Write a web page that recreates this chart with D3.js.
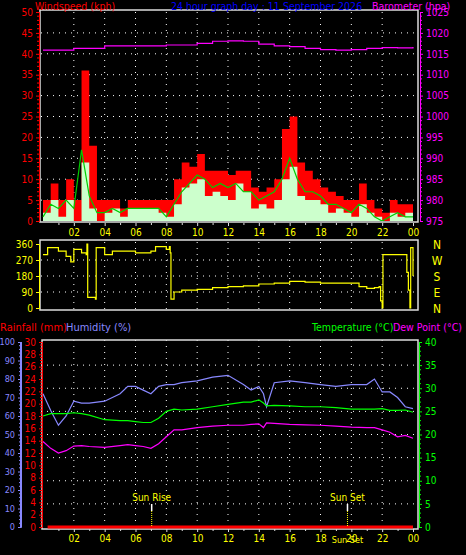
<!DOCTYPE html>
<html><head><meta charset="utf-8">
<script src="https://cdn.jsdelivr.net/npm/d3@7"></script>
<style>body{margin:0;background:#000}svg{display:block}text{font-family:"DejaVu Sans Condensed","DejaVu Sans",sans-serif}</style>
</head><body><div id="chart"></div>
<script>
const hourTicks = ["02","04","06","08","10","12","14","16","18","20","22","00"];
// half-hour samples 0..24
const gust = [5,9,5,10,5,36,18,5,5,5,3,5,5,5,5,5,5,10,14,13,16,12,12,12,11,12,12,8,7,8,10,22,25,14,12,10,8,7,6,5,5,9,5,3,2,5,4,4,5];
const speed = [2,5,1,5,0,14,3,0,2,3,1,3,3,3,3,2,1,4,8,9,10,6,7,6,5,9,7,3,4,3,5,10,13,6,5,5,4,2,3,2,1,4,2,1,0,2,1,2,2];
const avgWind = [1,4,3,5,3,17,6,2,2,3,2,3,3,3,3,3,1,4,7,9,11,10,8,9,8,9,7,7,5,6,7,10,15,10,7,7,6,4,4,3,2,4,3,1,0,1,2,1,1];
const baroHours = [0,2,4,6,8,10,11,12,13,14,15,16,17,18,19,20,21,22,23,24];
const baro = [1015.9,1016.3,1016.9,1016.9,1017.1,1017.5,1018.0,1018.1,1018.0,1017.3,1016.9,1016.7,1016.3,1016.0,1015.9,1016.0,1016.3,1016.5,1016.4,1016.6];
const dirHours = [0,0.3,1,1.5,1.8,2.0,2.5,2.8,2.85,2.9,3.4,3.45,4,4.5,5,6,7,7.3,8,8.2,8.25,8.3,8.5,9,10,11,12,13,14,15,16,17,18,19,20,20.5,21,21.5,21.8,21.9,22.0,22.05,23.5,23.6,23.7,23.8,23.85,24];
const dirs = [300,340,320,290,260,330,310,300,360,60,50,340,300,320,320,310,320,345,330,345,310,50,90,100,105,115,120,125,135,140,150,145,140,140,140,120,110,115,120,40,0,300,300,200,100,0,340,180];
const thHours = [0,0.5,1,1.5,2,2.5,3,4,5,5.5,6,6.5,7,7.5,8,8.5,9,10,11,12,13,13.5,14,14.3,14.5,15,16,17,18,19,20,21,21.5,22,22.5,23,23.5,24];
const humidity = [72,63,55,60,68,67,67,68,72,76,76,74,72,76,77,77,78,79,81,82,77,74,76,72,65,78,79,78,77,76,77,77,80,73,73,70,65,64];
const temperature = [24,24.5,24.5,24.5,24.7,24.5,24.2,23.2,23,23,22.8,22.6,22.6,23.5,25,25.5,25.3,25.5,26,26.5,27,27,27.5,26.8,26.2,26.3,26.2,26,26,25.8,25.5,25.5,25.5,25.6,25.2,25.2,25.3,24.8];
const dewpoint = [18.5,17,16,16.5,17.5,17.6,17.4,17.2,17.6,17.8,17.6,17.4,17,18,19.5,21,21,21.5,21.8,22,22,22.2,22.3,21.5,22.5,22.4,22.2,22.1,22,21.8,21.6,21.5,21.5,21,20.5,19.5,19.8,19.2];
const rainHours = [0.3,24];
const rain = [0,0];
const sunRise = 7.05, sunSet = 19.75;

const svg = d3.select("#chart").append("svg").attr("width",466).attr("height",555).style("background","#000");
const x = d3.scaleLinear().domain([0,24]).range([43,413]);
const half = d3.range(49).map(i => i/2);
const dotted = "1,5";

function grid(y, vals, y0, y1) {
  vals.forEach(v => svg.append("line").attr("x1",41).attr("x2",416).attr("y1",y(v)).attr("y2",y(v))
    .attr("stroke","#fff").attr("stroke-dasharray",dotted));
  d3.range(2,24,2).forEach(h => svg.append("line").attr("x1",x(h)).attr("x2",x(h)).attr("y1",y0).attr("y2",y1)
    .attr("stroke","#fff").attr("stroke-dasharray",dotted));
}
function frame(y0, y1, xl, xr) {
  svg.append("rect").attr("x",xl||40).attr("y",y0).attr("width",(xr||418)-(xl||40)).attr("height",y1-y0)
    .attr("fill","none").attr("stroke","#ddd").attr("stroke-width",1.5);
}
function axisTicks(g, col, fs) {
  g.selectAll("text").attr("fill",col).style("font-size",fs||"10px");
  g.selectAll("line").attr("stroke",col); g.select(".domain").attr("stroke",col);
}
function minor(ys, vals, xPos, col, dir) {
  vals.forEach(v => svg.append("line").attr("x1",xPos).attr("x2",xPos+dir*2).attr("y1",ys(v)).attr("y2",ys(v)).attr("stroke",col));
}
function hourAxis(yPos) {
  const g = svg.append("g").attr("transform",`translate(0,${yPos})`)
    .call(d3.axisBottom(x).tickValues(d3.range(2,25,2)).tickFormat((d,i)=>hourTicks[i]).tickSize(3));
  axisTicks(g,"#ff0"); g.select(".domain").remove(); g.selectAll("line").attr("stroke","#ddd");
  const m = svg.append("g").attr("transform",`translate(0,${yPos})`)
    .call(d3.axisBottom(x).tickValues(d3.range(1,24,2)).tickFormat("").tickSize(2));
  m.select(".domain").remove(); m.selectAll("line").attr("stroke","#ddd");
}

// ---- wind panel
const yW = d3.scaleLinear().domain([0,50]).range([221,12]);
const yB = d3.scaleLinear().domain([975,1025]).range([221,12]);
grid(yW, d3.range(5,50,5), 12, 221);
svg.append("path").datum(gust).attr("fill","#f00")
  .attr("d", d3.area().x((d,i)=>x(half[i])).y0(yW(0)).y1(d=>yW(d)).curve(d3.curveStepAfter));
svg.append("path").datum(speed).attr("fill","#cfc")
  .attr("d", d3.area().x((d,i)=>x(half[i])).y0(yW(0)).y1(d=>yW(d)).curve(d3.curveStepAfter));
svg.append("path").datum(avgWind).attr("fill","none").attr("stroke","#0c0").attr("stroke-width",1.2)
  .attr("d", d3.line().x((d,i)=>x(half[i])).y(d=>yW(d)));
svg.append("path").datum(baro).attr("fill","none").attr("stroke","#f0f").attr("stroke-width",1.2)
  .attr("d", d3.line().x((d,i)=>x(baroHours[i])).y(d=>yB(d)).curve(d3.curveStepAfter));
frame(10, 222);
axisTicks(svg.append("g").attr("transform","translate(39,0)").call(d3.axisLeft(yW).tickValues(d3.range(0,51,5)).tickSize(3)),"#f00");
minor(yW, d3.range(1,50).filter(v=>v%5), 39, "#f00", -1);
axisTicks(svg.append("g").attr("transform","translate(420,0)").call(d3.axisRight(yB).tickValues(d3.range(975,1026,5)).tickFormat(d3.format("d")).tickSize(3)),"#f0f");
minor(yB, d3.range(976,1025).filter(v=>v%5), 420, "#f0f", 1);
svg.append("text").attr("x",35).attr("y",9.5).attr("fill","#f00").style("font-size","10.5px").text("Windspeed (kph)");
svg.append("text").attr("x",171).attr("y",9.5).attr("fill","#00f").style("font-size","10.5px").text("24 hour graph day : 11 September 2026");
svg.append("text").attr("x",372).attr("y",9.5).attr("fill","#f0f").style("font-size","10.5px").text("Barometer (hpa)");
hourAxis(223);

// ---- direction panel
const yD = d3.scaleLinear().domain([0,360]).range([308,244]);
grid(yD, [90,180,270], 242, 310);
frame(240, 310);
svg.append("path").datum(dirs).attr("fill","none").attr("stroke","#ff0").attr("stroke-width",1.2)
  .attr("d", d3.line().x((d,i)=>x(dirHours[i])).y(d=>yD(d)).curve(d3.curveStepAfter));
axisTicks(svg.append("g").attr("transform","translate(39,0)").call(d3.axisLeft(yD).tickValues([0,90,180,270,360]).tickSize(3)),"#ff0");
["N","W","S","E","N"].forEach((c,i)=>svg.append("text").attr("x",437).attr("y",yD(360-i*90)+5).attr("text-anchor","middle")
  .attr("fill","#ff0").style("font-size","12px").text(c));

// ---- temp / humidity panel
const yH = d3.scaleLinear().domain([0,100]).range([527,342]);
const yR = d3.scaleLinear().domain([0,30]).range([527,342]);
const yT = d3.scaleLinear().domain([0,40]).range([527,342]);
grid(yT, d3.range(5,40,5), 340, 528);
frame(340, 529, 42, 418);
axisTicks(svg.append("g").attr("transform","translate(21,0)").call(d3.axisLeft(yH).tickValues(d3.range(0,101,10)).tickSize(3)),"#88f","9px");
minor(yH, d3.range(2,100,2).filter(v=>v%10), 21, "#88f", -1);
svg.append("line").attr("x1",21).attr("x2",21).attr("y1",342).attr("y2",527).attr("stroke","#88f").attr("stroke-width",2);
axisTicks(svg.append("g").attr("transform","translate(42,0)").call(d3.axisLeft(yR).tickValues(d3.range(0,31,2)).tickSize(3)),"#f00");
minor(yR, d3.range(0.5,30,0.5).filter(v=>v%2), 42, "#f00", -1);
axisTicks(svg.append("g").attr("transform","translate(419,0)").call(d3.axisRight(yT).tickValues(d3.range(0,41,5)).tickSize(3)),"#0f0");
minor(yT, d3.range(1,40).filter(v=>v%5), 419, "#0f0", 1);
const ln = (arr, ys, col) => svg.append("path").datum(arr).attr("fill","none").attr("stroke",col).attr("stroke-width",1.2)
  .attr("d", d3.line().x((d,i)=>x(thHours[i])).y(d=>ys(d)));
ln(humidity, yH, "#88f");
ln(temperature, yT, "#0f0");
ln(dewpoint, yT, "#f0f");
svg.append("path").datum(rain).attr("fill","none").attr("stroke","#f00").attr("stroke-width",3)
  .attr("d", d3.line().x((d,i)=>x(rainHours[i])).y(d=>yR(d)));
[[sunRise,"Sun Rise"],[sunSet,"Sun Set"]].forEach(([h,t])=>{
  svg.append("line").attr("x1",x(h)).attr("x2",x(h)).attr("y1",504).attr("y2",511).attr("stroke","#fff").attr("stroke-width",1.5);
  svg.append("line").attr("x1",x(h)).attr("x2",x(h)).attr("y1",511).attr("y2",527).attr("stroke","#ff0").attr("stroke-dasharray","1,1");
  svg.append("text").attr("x",x(h)).attr("y",501).attr("text-anchor","middle").attr("fill","#ff0").style("font-size","10px").text(t);
});
svg.append("text").attr("x",0).attr("y",331).attr("fill","#f00").style("font-size","11px").text("Rainfall (mm)");
svg.append("text").attr("x",66).attr("y",331).attr("fill","#88f").style("font-size","11px").text("Humidity (%)");
svg.append("text").attr("x",312).attr("y",331).attr("fill","#0f0").style("font-size","10.5px").text("Temperature (°C)");
svg.append("text").attr("x",393).attr("y",331).attr("fill","#f0f").style("font-size","10.5px").text("Dew Point (°C)");
hourAxis(529);
svg.append("text").attr("x",x(sunSet)).attr("y",543).attr("text-anchor","middle").attr("fill","#ff0").style("font-size","9px").text("Sun Set");
</script></body></html>
